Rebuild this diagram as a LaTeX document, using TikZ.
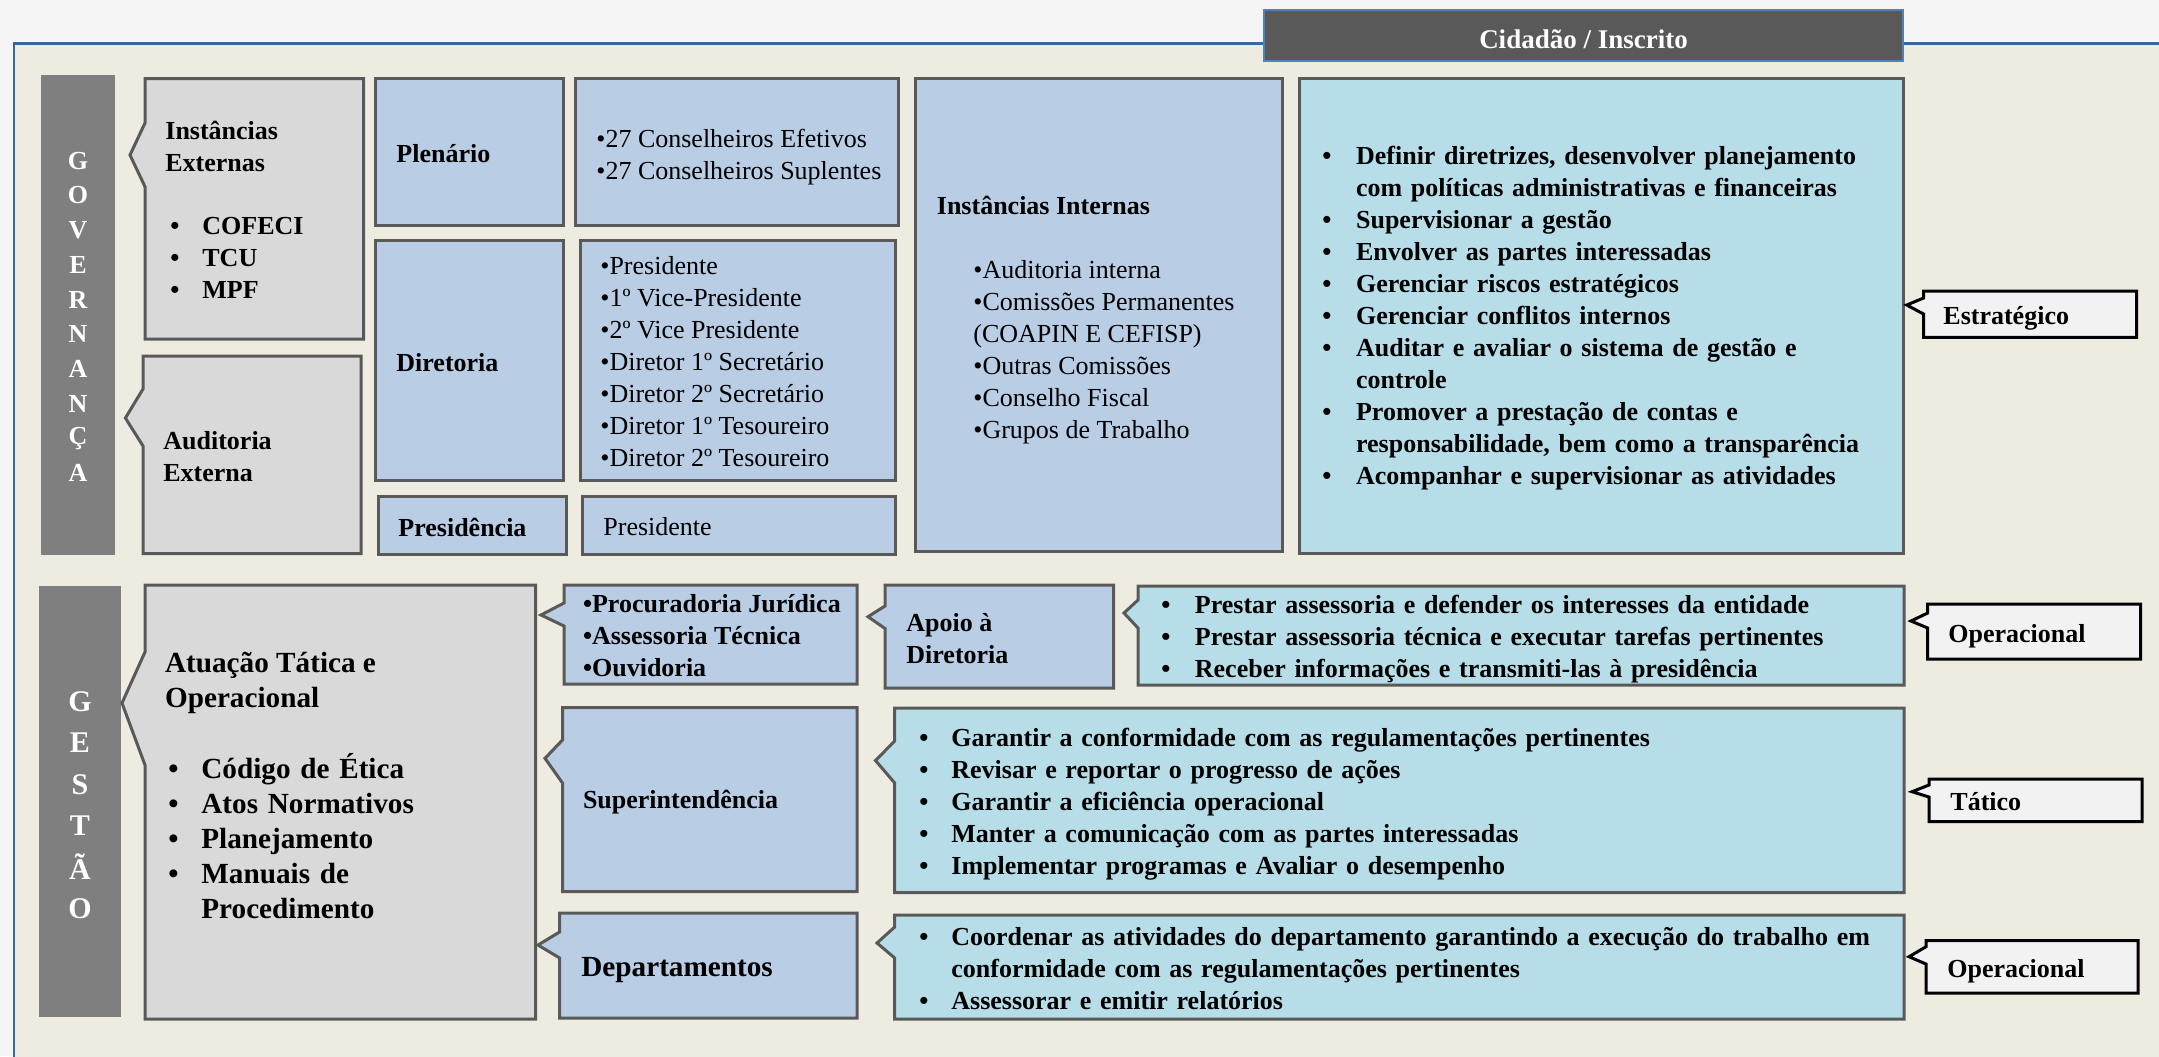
\documentclass[tikz,border=0pt]{standalone}
\usepackage{fontspec}
\setmainfont{Liberation Serif}
\usepackage{enumitem}
\definecolor{bgout}{HTML}{F5F5F5}
\definecolor{bgin}{HTML}{EEECE1}
\definecolor{framec}{HTML}{3E64A0}
\definecolor{grayfill}{HTML}{D9D9D9}
\definecolor{bluefill}{HTML}{B9CDE5}
\definecolor{cyanfill}{HTML}{B7DEE8}
\definecolor{barfill}{HTML}{7F7F7F}
\definecolor{boxline}{HTML}{595959}
\definecolor{citfill}{HTML}{595959}
\definecolor{citline}{HTML}{4F81BD}
\definecolor{lblfill}{HTML}{F2F2F2}
\setlist[itemize]{label=\textbullet,topsep=0pt,partopsep=0pt,itemsep=0pt,parsep=0pt,labelsep=0pt,align=left,labelindent=0pt}
\newenvironment{blist}[1]{\begin{itemize}[leftmargin=#1,labelwidth=#1]}{\end{itemize}}
\newcommand{\calloutL}[9]{\draw[#1] (#2,#3) -- (#4,#3) -- (#4,#5) -- (#2,#5) -- (#2,#9) -- (#7,#8) -- (#2,#6) -- cycle;}
\begin{document}
\begin{tikzpicture}[x=0.5pt,y=-0.5pt,
  box/.style={draw=boxline,line width=1.5pt,line join=miter},
  gbox/.style={box,fill=grayfill},
  bbox/.style={box,fill=bluefill},
  cbox/.style={box,fill=cyanfill},
  lbl/.style={draw=black,line width=1.5pt,fill=lblfill,line join=miter},
  bar/.style={fill=barfill},
  txt/.style={anchor=west,inner sep=0pt,align=left,font=\fontsize{13}{16}\selectfont},
  btxt/.style={anchor=west,inner sep=0pt,align=left,font=\fontsize{13}{16}\selectfont\bfseries},
  bigtxt/.style={anchor=west,inner sep=0pt,align=left,font=\fontsize{14.6}{17.5}\selectfont\bfseries},
  letter/.style={inner sep=0pt,text=white,font=\fontsize{13}{16}\selectfont\bfseries},
  bigletter/.style={inner sep=0pt,text=white,font=\fontsize{15}{18}\selectfont\bfseries}]
\useasboundingbox (0,0) rectangle (2159,1056);
\begin{scope}
  \clip (0,0) rectangle (2159,1056);
  \fill[bgout] (0,0) rectangle (2159,1056);
  \draw[framec,line width=1.2pt,fill=bgin] (13.8,43.6) rectangle (2200,1100);
\end{scope}
% Cidadao
\draw[draw=citline,line width=1pt,fill=citfill] (1264,10) rectangle (1903,61.4);
\node[inner sep=0pt,text=white,font=\fontsize{13.5}{16}\selectfont\bfseries] (cidadao) at (1583.5,39) {Cidadão / Inscrito};
% bars
\fill[bar] (41,75) rectangle (115,555);
\fill[bar] (39,586) rectangle (121,1017);
\foreach \l [count=\i from 0] in {G,O,V,E,R,N,A,N,Ç,A}
  \node[letter] (gov\i) at (78,160.7+34.7*\i) {\l};
\foreach \l [count=\i from 0] in {G,E,S,T,Ã,O}
  \node[bigletter] (ges\i) at (80,701.7+41.3*\i) {\l};
% governance boxes
\calloutL{gbox}{145}{78.6}{363.6}{339}{123}{130}{155}{186.7}
\calloutL{gbox}{143}{356}{361}{553.6}{389}{125.4}{418}{446}
\draw[bbox] (375.6,78.6) rectangle (563.8,225.7);
\draw[bbox] (575,78.6) rectangle (898,225.7);
\draw[bbox] (375.6,240) rectangle (563.8,480);
\draw[bbox] (580,240) rectangle (895,480);
\draw[bbox] (378,496) rectangle (566,554);
\draw[bbox] (582,496) rectangle (895,554);
\draw[bbox] (915.7,78.6) rectangle (1282,551.6);
\draw[cbox] (1299.6,78.6) rectangle (1903.4,553.6);
\calloutL{lbl}{1923.6}{291}{2136.6}{337.4}{298}{1906.7}{305}{314}
% governance texts
\node[btxt] (instext) at (165,146.5) {Instâncias\\Externas};
\node[btxt,text width=90pt] (extlist) at (170,250) {\begin{blist}{16pt}\item COFECI\item TCU\item MPF\end{blist}};
\node[btxt] (audext) at (163,457) {Auditoria\\Externa};
\node[btxt] (plenario) at (396,153.6) {Plenário};
\node[txt] (conselheiros) at (596,157) {\textbullet27 Conselheiros Efetivos\\\textbullet27 Conselheiros Suplentes};
\node[btxt] (diretoria) at (396,362.5) {Diretoria};
\node[txt] (dirlist) at (600,361.5) {\textbullet Presidente\\\textbullet1º Vice-Presidente\\\textbullet2º Vice Presidente\\\textbullet Diretor 1º Secretário\\\textbullet Diretor 2º Secretário\\\textbullet Diretor 1º Tesoureiro\\\textbullet Diretor 2º Tesoureiro};
\node[btxt] (presidencia) at (398,527) {Presidência};
\node[txt] (presidente) at (603,527) {Presidente};
\node[btxt] (internas) at (936.5,205) {Instâncias Internas};
\node[txt] (intlist) at (973,352) {\textbullet Auditoria interna\\\textbullet Comissões Permanentes\\(COAPIN E CEFISP)\\\textbullet Outras Comissões\\\textbullet Conselho Fiscal\\\textbullet Grupos de Trabalho};
\node[btxt,text width=290pt] (estlist) at (1322,311.5) {\begin{blist}{16.85pt}
\item Definir diretrizes, desenvolver planejamento\\com políticas administrativas e financeiras
\item Supervisionar a gestão
\item Envolver as partes interessadas
\item Gerenciar riscos estratégicos
\item Gerenciar conflitos internos
\item Auditar e avaliar o sistema de gestão e\\controle
\item Promover a prestação de contas e\\responsabilidade, bem como a transparência
\item Acompanhar e supervisionar as atividades\end{blist}};
\node[btxt] (estrategico) at (1943,318) {Estratégico};
% gestao boxes
\calloutL{gbox}{145}{585}{535.5}{1019}{652}{122}{703}{765}
\calloutL{bbox}{564}{585}{857}{684}{603}{541}{615}{626}
\calloutL{bbox}{562.5}{707.7}{857}{891.7}{740}{545}{758.3}{783}
\calloutL{bbox}{559.6}{913}{857}{1018}{932}{538}{945}{958}
\calloutL{bbox}{885}{585}{1113.5}{688}{606}{868}{616.7}{628.5}
\calloutL{cbox}{1138}{586}{1904}{685}{600}{1124}{613}{628}
\calloutL{cbox}{894.7}{708}{1904}{892.7}{741}{875.5}{760.5}{783}
\calloutL{cbox}{894.7}{915}{1904}{1019}{927}{877}{943}{958}
\calloutL{lbl}{1927.7}{604}{2140.7}{659}{613}{1911}{621}{628}
\calloutL{lbl}{1929}{779}{2142}{821.7}{785}{1912}{791.7}{797}
\calloutL{lbl}{1926}{940.7}{2138}{993}{946.7}{1909}{956.7}{964}
% gestao texts
\node[bigtxt] (atuacao) at (164.7,683) {Atuação Tática e\\Operacional};
\node[bigtxt,text width=170pt] (atulist) at (168,831) {\begin{blist}{16.5pt}\item Código de Ética\item Atos Normativos\item Planejamento\item Manuais de\\Procedimento\end{blist}};
\node[btxt] (procur) at (582.6,636) {\textbullet Procuradoria Jurídica\\\textbullet Assessoria Técnica\\\textbullet Ouvidoria};
\node[btxt] (apoio) at (906,639) {Apoio à\\Diretoria};
\node[btxt,text width=370pt] (apoiolist) at (1161,632.5) {\begin{blist}{16.75pt}
\item Prestar assessoria e defender os interesses da entidade
\item Prestar assessoria técnica e executar tarefas pertinentes
\item Receber informações e transmiti-las à presidência\end{blist}};
\node[btxt] (operac1) at (1948,636) {Operacional};
\node[btxt] (superint) at (582.6,802.5) {Superintendência};
\node[btxt,text width=490pt] (suplist) at (919,797.5) {\begin{blist}{16pt}
\item Garantir a conformidade com as regulamentações pertinentes
\item Revisar e reportar o progresso de ações
\item Garantir a eficiência operacional
\item Manter a comunicação com as partes interessadas
\item Implementar programas e Avaliar o desempenho\end{blist}};
\node[btxt] (tatico) at (1950,801.5) {Tático};
\node[bigtxt] (deptos) at (581,970) {Departamentos};
\node[btxt,text width=490pt] (deplist) at (919,962) {\begin{blist}{16pt}
\item Coordenar as atividades do departamento garantindo a execução do trabalho em\\conformidade com as regulamentações pertinentes
\item Assessorar e emitir relatórios\end{blist}};
\node[btxt] (operac2) at (1947,971) {Operacional};
\end{tikzpicture}
\end{document}
